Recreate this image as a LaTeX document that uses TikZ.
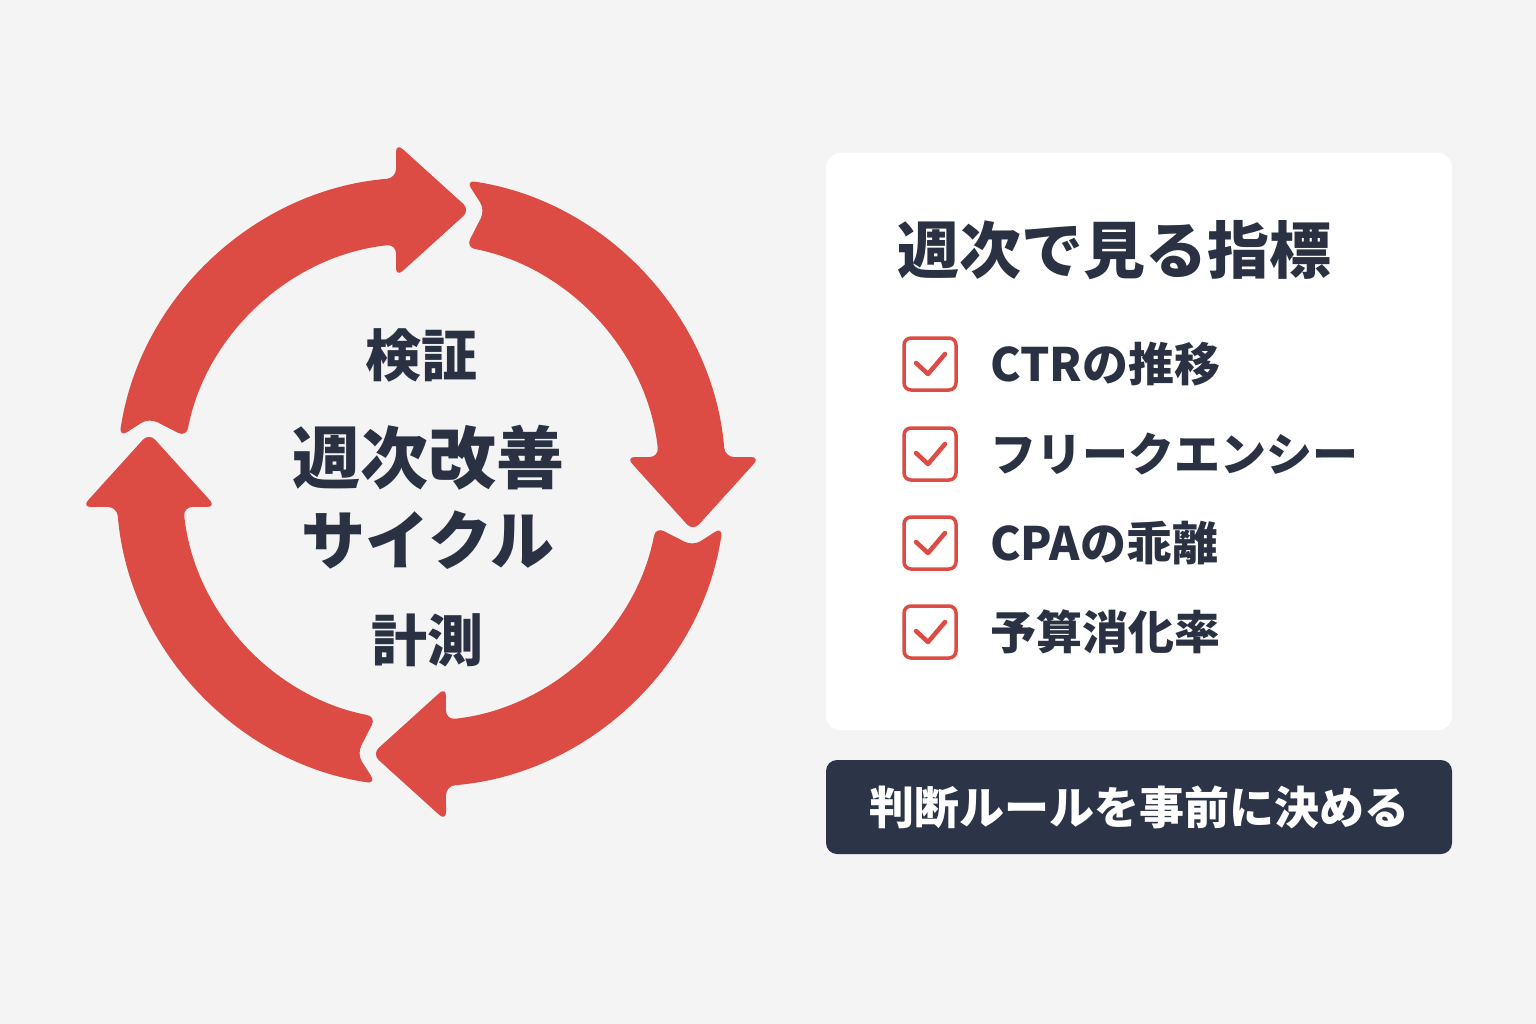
\documentclass[tikz,border=0pt]{standalone}
\usepackage{fontspec}
\setmainfont{Noto Sans CJK JP}
\definecolor{bg}{RGB}{245,244,244}
\definecolor{ringred}{RGB}{220,76,68}
\definecolor{ink}{RGB}{42,49,66}
\definecolor{btnfill}{RGB}{44,52,72}
\tikzset{
  card/.style={fill=white, rounded corners=14, minimum width=626, minimum height=577, inner sep=0},
  btn/.style={fill=btnfill, rounded corners=11, minimum width=626, minimum height=94, inner sep=0, text=white, font=\fontsize{45}{50}\selectfont\bfseries},
  chk/.style={draw=ringred, fill=white, line width=3.5, rounded corners=7, minimum size=52, inner sep=0},
  tick/.style={draw=ringred, line width=4.5, line cap=round, line join=round},
  item/.style={anchor=west, inner sep=0, text=ink, font=\fontsize{46}{50}\selectfont\bfseries},
  title/.style={anchor=west, inner sep=0, text=ink, font=\fontsize{62}{66}\selectfont\bfseries},
  small/.style={inner sep=0, text=ink, font=\fontsize{56}{60}\selectfont\bfseries},
  big/.style={inner sep=0, text=ink, font=\fontsize{68}{72}\selectfont\bfseries},
  bigk/.style={inner sep=0, text=ink, font=\fontsize{64}{72}\selectfont\bfseries},
}
\begin{document}
\begin{tikzpicture}[x=1pt,y=-1pt]
\useasboundingbox (0,0) rectangle (1536,1024);
\fill[bg] (0,0) rectangle (1536,1024);
% ring of four arrows
\begin{scope}[shift={(421,482)}, yscale=-1]
\foreach \r in {0,-90,-180,-270}{
  \fill[ringred, rotate=\r, rounded corners=9] (171.52:305) arc[start angle=171.52, end angle=94.70, radius=305]
    -- (-25,339) -- (49,272) -- (-25,205) -- (96.00:239)
    arc[start angle=96.00, end angle=169.15, radius=239] -- (-272,64) -- cycle;
}
\end{scope}
% cycle labels
\node[small] (verify) at (421,355) {検証};
\node[big] (cyc1) at (428,458) {週次改善};
\node[bigk] (cyc2) at (428,540) {サイクル};
\node[small] (measure) at (427,640) {計測};
% card
\node[card] (card) at (1139,441.5) {};
\node[title] (ttl) at (897,250) {週次で見る指標};
\node[chk] (c1) at (930,364) {};
\node[chk] (c2) at (930,454) {};
\node[chk] (c3) at (930,543) {};
\node[chk] (c4) at (930,632) {};
\foreach \c in {c1,c2,c3,c4}{
  \draw[tick] ([shift={(-14,-1)}]\c.center) -- ([shift={(-2,10)}]\c.center) -- ([shift={(15,-10)}]\c.center);
}
\node[item] (t1) at (990,364) {CTRの推移};
\node[item] (t2) at (990,454) {フリークエンシー};
\node[item] (t3) at (990,543) {CPAの乖離};
\node[item] (t4) at (990,632) {予算消化率};
% rule button
\node[btn] (rule) at (1139,807) {判断ルールを事前に決める};
\end{tikzpicture}
\end{document}
